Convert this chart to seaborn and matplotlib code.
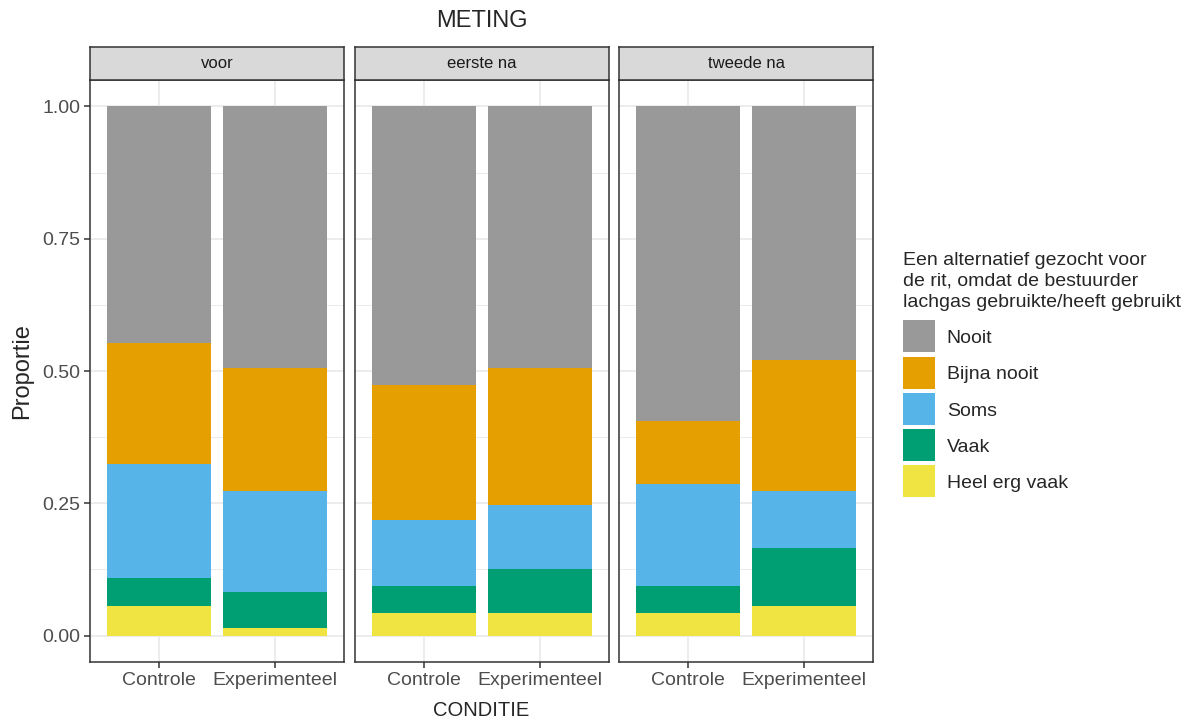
import matplotlib
matplotlib.use("Agg")
import matplotlib.pyplot as plt
from matplotlib.lines import Line2D
import seaborn as sns
import pandas as pd

# data (proportions per answer, per bar)
metingen = ["voor", "eerste na", "tweede na"]
condities = ["Controle", "Experimenteel"]
categories = ["Nooit", "Bijna nooit", "Soms", "Vaak", "Heel erg vaak"]
colors = ["#999999", "#E69F00", "#56B4E9", "#009E73", "#F0E442"]

# order of bars: voor C, voor E, eerste na C, eerste na E, tweede na C, tweede na E
heel_erg_vaak = [0.056, 0.015, 0.042, 0.042, 0.042, 0.056]
vaak = [0.053, 0.067, 0.052, 0.083, 0.052, 0.109]
soms = [0.215, 0.192, 0.124, 0.122, 0.192, 0.109]
bijna_nooit = [0.229, 0.232, 0.256, 0.259, 0.120, 0.247]
nooit = [0.447, 0.494, 0.526, 0.494, 0.594, 0.479]

legend_title = ("Een alternatief gezocht voor\nde rit, omdat de bestuurder\n"
                "lachgas gebruikte/heeft gebruikt")

df = pd.DataFrame({
    "meting": [m for m in metingen for _ in condities],
    "conditie": condities * len(metingen),
    "Heel erg vaak": heel_erg_vaak,
    "Vaak": vaak,
    "Soms": soms,
    "Bijna nooit": bijna_nooit,
    "Nooit": nooit,
})
# cumulative heights for stacking (bottom = Heel erg vaak)
stack_order = categories[::-1]
df[[f"cum_{c}" for c in stack_order]] = df[stack_order].cumsum(axis=1).values

sns.set_theme(style="white")
plt.rcParams["font.family"] = ["Liberation Sans", "DejaVu Sans"]

W, H = 1201, 722
fig = plt.figure(figsize=(W / 100, H / 100), dpi=100)


def box(l, t, w, h):
    return [l / W, 1 - (t + h) / H, w / W, h / H]


lefts = [90, 355, 619]
pw, ptop, ph = 254, 80, 582
edge = "#333333"

for i, meting in enumerate(metingen):
    ax = fig.add_axes(box(lefts[i], ptop, pw, ph))
    sub = df[df["meting"] == meting]
    # draw tallest stack first, smaller ones on top
    for cat, col in zip(categories, colors):
        sns.barplot(data=sub, x="conditie", y=f"cum_{cat}", order=condities,
                    color=col, width=0.9, errorbar=None, saturation=1,
                    linewidth=0, ax=ax, zorder=2)
    ax.set_xlim(-0.6, 1.6)
    ax.set_ylim(-0.05, 1.05)
    ax.set_yticks([0, 0.25, 0.5, 0.75, 1.0])
    ax.set_yticks([0.125, 0.375, 0.625, 0.875], minor=True)
    ax.set_yticklabels(["0.00", "0.25", "0.50", "0.75", "1.00"])
    ax.grid(which="major", color="#EBEBEB", lw=1.3, zorder=0)
    ax.grid(which="minor", axis="y", color="#EBEBEB", lw=0.7, zorder=0)
    ax.set_axisbelow(True)
    ax.set_xlabel("")
    ax.set_ylabel("")
    for s in ax.spines.values():
        s.set_color(edge)
        s.set_linewidth(1.1)
    ax.tick_params(axis="x", which="major", bottom=True, length=4, width=1.1,
                   color=edge, labelsize=14, labelcolor="#4D4D4D", pad=3)
    ax.tick_params(axis="y", which="minor", left=False)
    if i == 0:
        ax.tick_params(axis="y", which="major", left=True, length=4, width=1.1,
                       color=edge, labelsize=14, labelcolor="#4D4D4D", pad=3)
    else:
        ax.tick_params(axis="y", which="major", left=False, labelleft=False)

    # facet strip
    sax = fig.add_axes(box(lefts[i], 47, pw, 33))
    sax.set_facecolor("#D9D9D9")
    sax.set_xticks([])
    sax.set_yticks([])
    for s in sax.spines.values():
        s.set_color(edge)
        s.set_linewidth(1.1)
    sax.text(0.5, 0.5, meting, ha="center", va="center", fontsize=12,
             color="#1A1A1A", transform=sax.transAxes)

cx = (lefts[0] + lefts[-1] + pw) / 2 / W
fig.text(cx, 1 - 21 / H, "METING", ha="center", va="center", fontsize=17)
fig.text(cx, 1 - 710 / H, "CONDITIE", ha="center", va="center", fontsize=14.5)
fig.text(22 / W, 1 - 371 / H, "Proportie", ha="center", va="center",
         rotation=90, fontsize=17)

# square legend keys, 32 px wide
handles = [Line2D([], [], marker="s", linestyle="none", markersize=23,
                  markerfacecolor=c, markeredgewidth=0) for c in colors]
leg = fig.legend(handles, categories, loc="upper left",
                 bbox_to_anchor=(903 / W, 1 - 252 / H), frameon=False,
                 title=legend_title, title_fontsize=14, fontsize=14,
                 handlelength=1.65, handletextpad=0.6,
                 labelspacing=0.96, borderpad=0, borderaxespad=0,
                 alignment="left")
leg.get_title().set_linespacing(1.3)

fig.savefig("out.png", dpi=100)
